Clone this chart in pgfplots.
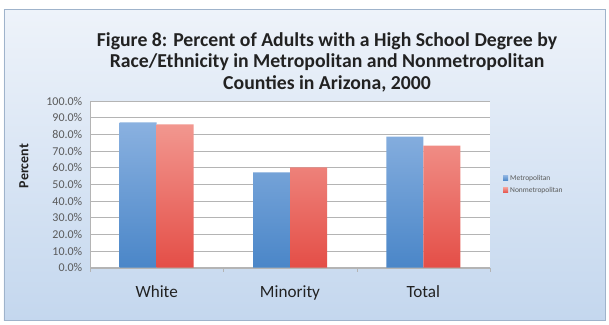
\documentclass[border=0pt]{standalone}
\usepackage{pgfplots}
\pgfplotsset{compat=1.18}
\usepackage{fontspec}
\setmainfont{Carlito}
\definecolor{bgtop}{HTML}{EEF3FA}
\definecolor{bgbot}{HTML}{C4D7EE}
\definecolor{bgborder}{HTML}{9FB3CB}
\definecolor{titlec}{HTML}{222222}
\definecolor{bluetop}{HTML}{8AB1E0}
\definecolor{bluebot}{HTML}{4A86C8}
\definecolor{redtop}{HTML}{F2978F}
\definecolor{redbot}{HTML}{E44E47}
\definecolor{gridc}{HTML}{B4B4B4}
\definecolor{tickc}{HTML}{595959}
\begin{document}
\begin{tikzpicture}[x=1bp,y=1bp]
\fill[white] (-90,-56.3) rectangle (519,267.7);
\shadedraw[top color=bgtop,bottom color=bgbot,draw=bgborder,line width=0.8bp] (-86,-52.3) rectangle (515,258.7);
\node[font=\fontsize{19.8}{21.5}\selectfont\bfseries, align=center, text=titlec] at (237,205.7)
 {Figure 8: Percent of Adults with a High School Degree by\\Race/Ethnicity in Metropolitan and Nonmetropolitan\\Counties in Arizona, 2000};
\node[rotate=90,font=\fontsize{14}{16}\selectfont\bfseries,text=titlec] at (-66,101.7) {Percent};
\begin{axis}[
  scale only axis, width=400bp, height=166.7bp,
  ybar=0pt, bar width=37bp,
  xmin=-0.5, xmax=2.5, ymin=0, ymax=100,
  xtick={0,1,2}, xticklabels={White,Minority,Total},
  minor xtick={-0.5,0.5,1.5,2.5},
  major x tick style={draw=none},
  minor x tick style={draw=gridc},
  minor tick length=4bp, tick align=outside,
  ytick={0,10,...,100},
  y tick style={draw=none},
  yticklabel={\pgfmathprintnumber[fixed,fixed zerofill,precision=1]{\tick}\%},
  /pgf/number format/assume math mode=true,
  yticklabel style={font=\fontsize{12}{13}\selectfont, text=tickc},
  xticklabel style={font=\fontsize{17.2}{18}\selectfont, text=titlec, yshift=-10bp},
  axis lines*=left,
  axis line style={draw=gridc},
  ymajorgrids, grid style={draw=gridc, line width=0.9bp},
  axis background/.style={fill=white},
  legend style={at={(1.025,0.5)}, anchor=west, draw=none, fill=none,
    font=\fontsize{7.5}{9}\selectfont, text=tickc, row sep=1.5bp},
  legend cell align=left,
  legend image code/.code={\fill[#1] (0bp,-2.5bp) rectangle (5bp,2.5bp);},
]
\addplot[draw=none, top color=bluetop, bottom color=bluebot] coordinates {(0,87.2) (1,57.2) (2,78.6)};
\addplot[draw=none, top color=redtop, bottom color=redbot] coordinates {(0,86.0) (1,60.2) (2,73.2)};
\legend{Metropolitan,Nonmetropolitan}
\end{axis}
\end{tikzpicture}
\end{document}
